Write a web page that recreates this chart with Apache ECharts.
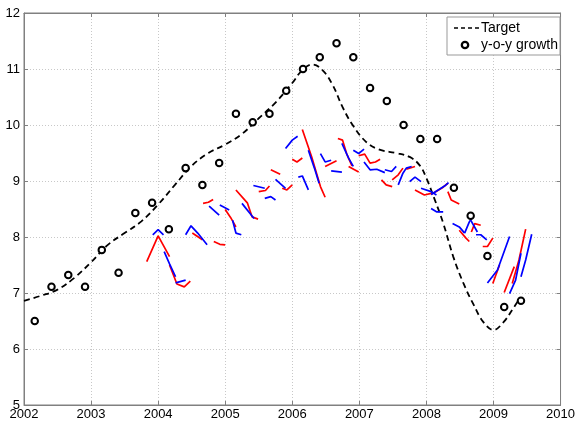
<!DOCTYPE html>
<html>
<head>
<meta charset="utf-8">
<script src="https://cdn.jsdelivr.net/npm/echarts@6/dist/echarts.min.js"></script>
<style>
html, body { margin: 0; padding: 0; background: #fff; }
#container { width: 578px; height: 423px; }
</style>
</head>
<body>
<div id="container"></div>
<script>
// target path (year, %)
var target = [
    [2002.0, 6.86], [2002.25, 6.95], [2002.5, 7.06], [2002.75, 7.27], [2003.0, 7.55],
    [2003.25, 7.86], [2003.5, 8.07], [2003.75, 8.28], [2004.0, 8.58], [2004.25, 8.93],
    [2004.5, 9.27], [2004.75, 9.5], [2005.0, 9.65], [2005.25, 9.84], [2005.5, 10.12],
    [2005.75, 10.4], [2006.0, 10.75], [2006.15, 10.98], [2006.3, 11.08], [2006.45, 10.98],
    [2006.6, 10.72], [2006.75, 10.32], [2006.9, 10.0], [2007.1, 9.7], [2007.3, 9.56],
    [2007.55, 9.5], [2007.75, 9.43], [2007.9, 9.28], [2008.0, 9.05], [2008.12, 8.68],
    [2008.25, 8.25], [2008.4, 7.65], [2008.55, 7.18], [2008.7, 6.8], [2008.85, 6.48],
    [2009.0, 6.34], [2009.15, 6.48], [2009.28, 6.7], [2009.4, 6.92]
];

// quarterly y-o-y growth
var yoyX = [2002.16, 2002.41, 2002.66, 2002.91, 2003.16, 2003.41, 2003.66, 2003.91,
    2004.16, 2004.41, 2004.66, 2004.91, 2005.16, 2005.41, 2005.66, 2005.91,
    2006.16, 2006.41, 2006.66, 2006.91, 2007.16, 2007.41, 2007.66, 2007.91,
    2008.16, 2008.41, 2008.66, 2008.91, 2009.16, 2009.41];
var yoyY = [6.5, 7.11, 7.32, 7.11, 7.77, 7.36, 8.43, 8.61,
    8.14, 9.23, 8.93, 9.32, 10.2, 10.05, 10.2, 10.61,
    11.0, 11.21, 11.46, 11.21, 10.66, 10.43, 10.0, 9.75,
    9.75, 8.88, 8.38, 7.66, 6.75, 6.86];

// forecast paths, model 1 (red)
var redPaths = [
    [[2003.83, 7.56], [2004.0, 8.02], [2004.17, 7.65]],
    [[2004.17, 7.5], [2004.28, 7.16], [2004.39, 7.11], [2004.48, 7.21]],
    [[2004.51, 8.07], [2004.66, 7.95]],
    [[2004.67, 8.6], [2004.75, 8.62], [2004.82, 8.67]],
    [[2004.83, 7.92], [2004.92, 7.87], [2005.0, 7.86]],
    [[2005.0, 8.49], [2005.08, 8.35], [2005.16, 8.18]],
    [[2005.16, 8.84], [2005.33, 8.61], [2005.4, 8.36], [2005.49, 8.32]],
    [[2005.5, 8.81], [2005.6, 8.83], [2005.66, 8.91]],
    [[2005.68, 9.2], [2005.82, 9.12]],
    [[2005.85, 8.87], [2005.92, 8.84], [2006.0, 8.93]],
    [[2006.0, 9.39], [2006.07, 9.34], [2006.15, 9.41]],
    [[2006.15, 9.92], [2006.29, 9.43], [2006.42, 8.9], [2006.49, 8.71]],
    [[2006.49, 9.26], [2006.66, 9.36]],
    [[2006.68, 9.76], [2006.75, 9.73], [2006.81, 9.49], [2006.89, 9.27]],
    [[2006.84, 9.26], [2006.99, 9.16]],
    [[2006.99, 9.45], [2007.08, 9.48], [2007.16, 9.32], [2007.24, 9.34], [2007.31, 9.39]],
    [[2007.33, 9.02], [2007.4, 8.93], [2007.49, 8.9]],
    [[2007.49, 9.02], [2007.58, 9.11], [2007.65, 9.23]],
    [[2007.7, 9.21], [2007.83, 9.26]],
    [[2007.83, 8.84], [2007.97, 8.75], [2008.07, 8.78]],
    [[2008.07, 8.76], [2008.25, 8.89], [2008.32, 8.96]],
    [[2008.32, 8.81], [2008.37, 8.66], [2008.49, 8.59]],
    [[2008.49, 8.12], [2008.59, 7.98], [2008.64, 7.92]],
    [[2008.67, 8.09], [2008.72, 8.24], [2008.81, 8.21]],
    [[2008.84, 7.83], [2008.91, 7.83], [2008.99, 7.98]],
    [[2008.99, 7.17], [2009.09, 7.5]],
    [[2009.16, 7.01], [2009.31, 7.47]],
    [[2009.28, 7.17], [2009.38, 7.59], [2009.48, 8.14]]
];

// forecast paths, model 2 (blue)
var bluePaths = [
    [[2003.92, 8.04], [2004.0, 8.13], [2004.08, 8.04]],
    [[2004.09, 7.74], [2004.17, 7.52], [2004.26, 7.29]],
    [[2004.26, 7.18], [2004.41, 7.23]],
    [[2004.41, 8.04], [2004.49, 8.2], [2004.59, 8.07], [2004.73, 7.86]],
    [[2004.76, 8.55], [2004.91, 8.39]],
    [[2004.92, 8.57], [2005.06, 8.48]],
    [[2005.11, 8.3], [2005.16, 8.07], [2005.24, 8.04]],
    [[2005.25, 8.6], [2005.43, 8.33]],
    [[2005.42, 8.92], [2005.59, 8.87]],
    [[2005.59, 8.69], [2005.68, 8.72], [2005.75, 8.66]],
    [[2005.75, 9.03], [2005.9, 8.87]],
    [[2005.9, 9.58], [2006.0, 9.73], [2006.08, 9.8]],
    [[2006.09, 9.07], [2006.15, 9.09], [2006.24, 8.84]],
    [[2006.24, 9.55], [2006.33, 9.23], [2006.4, 8.96]],
    [[2006.42, 9.49], [2006.49, 9.34], [2006.58, 9.37]],
    [[2006.58, 9.18], [2006.74, 9.16]],
    [[2006.74, 9.67], [2006.84, 9.41], [2006.91, 9.26]],
    [[2006.91, 9.55], [2006.99, 9.49], [2007.07, 9.57]],
    [[2007.07, 9.34], [2007.16, 9.2], [2007.26, 9.21], [2007.38, 9.15]],
    [[2007.38, 9.2], [2007.48, 9.17], [2007.55, 9.26]],
    [[2007.58, 8.93], [2007.65, 9.14], [2007.7, 9.23], [2007.78, 9.26]],
    [[2007.75, 8.99], [2007.83, 9.07], [2007.92, 8.99]],
    [[2007.92, 8.87], [2008.07, 8.81], [2008.15, 8.75]],
    [[2008.07, 8.76], [2008.27, 8.91], [2008.33, 8.97]],
    [[2008.07, 8.51], [2008.15, 8.45], [2008.25, 8.45]],
    [[2008.39, 8.24], [2008.49, 8.18], [2008.57, 8.07]],
    [[2008.57, 8.07], [2008.64, 8.27], [2008.69, 8.36]],
    [[2008.66, 8.3], [2008.76, 8.09]],
    [[2008.74, 8.04], [2008.81, 8.04], [2008.9, 7.95]],
    [[2008.91, 7.18], [2009.06, 7.41], [2009.24, 8.01]],
    [[2009.24, 6.99], [2009.33, 7.23], [2009.41, 7.71]],
    [[2009.41, 7.29], [2009.48, 7.59], [2009.57, 8.05]]
];

var FONT = "'Liberation Sans', Arial, Helvetica, sans-serif";

function pathSeries(paths, color) {
    return paths.map(function (p) {
        return {
            type: 'line',
            data: p,
            showSymbol: false,
            symbol: 'none',
            silent: true,
            z: 3,
            lineStyle: { color: color, width: 1.7 }
        };
    });
}

var yoy = yoyX.map(function (x, i) { return [x, yoyY[i]]; });

var dom = document.getElementById('container');
var myChart = echarts.init(dom);

var tickStyle = { inside: true, length: 4, lineStyle: { color: '#808080' } };
var axisLine = { show: true, lineStyle: { color: '#808080', width: 1 } };
var gridLine = { show: true, lineStyle: { color: '#c8c8c8', type: [1, 2], width: 1 } };

var option = {
    animation: false,
    backgroundColor: '#fff',
    textStyle: { fontFamily: FONT },
    grid: { left: 24, right: 15, top: 13, bottom: 18, show: true, borderColor: '#808080', borderWidth: 1 },
    legend: { show: false },
    xAxis: [{
        type: 'value', min: 2002, max: 2010, interval: 1,
        axisLine: axisLine, axisTick: tickStyle,
        axisLabel: { color: '#000', fontSize: 13, margin: 3, fontFamily: FONT,
            formatter: function (v) { return String(v); } },
        splitLine: gridLine
    }, {
        type: 'value', position: 'top', min: 2002, max: 2010, interval: 1,
        axisLine: axisLine, axisTick: tickStyle, axisLabel: { show: false }, splitLine: { show: false }
    }],
    yAxis: [{
        type: 'value', min: 5, max: 12, interval: 1,
        axisLine: axisLine, axisTick: tickStyle,
        axisLabel: { color: '#000', fontSize: 13, margin: 4, fontFamily: FONT },
        splitLine: gridLine
    }, {
        type: 'value', position: 'right', min: 5, max: 12, interval: 1,
        axisLine: axisLine, axisTick: tickStyle, axisLabel: { show: false }, splitLine: { show: false }
    }],
    // MATLAB-style legend box
    graphic: [
        { type: 'rect', z: 100, shape: { x: 447, y: 17, width: 113, height: 38 },
          style: { fill: '#fff', stroke: '#999', lineWidth: 1 } },
        { type: 'line', z: 101, shape: { x1: 454, y1: 28, x2: 479, y2: 28 },
          style: { stroke: '#000', lineWidth: 1.5, lineDash: [4, 3] } },
        { type: 'text', z: 101, x: 481, y: 28,
          style: { text: 'Target', fontSize: 14, fontFamily: FONT, fill: '#000', verticalAlign: 'middle' } },
        { type: 'circle', z: 101, shape: { cx: 465, cy: 45, r: 3.2 },
          style: { fill: '#fff', stroke: '#000', lineWidth: 2.3 } },
        { type: 'text', z: 101, x: 481, y: 45,
          style: { text: 'y-o-y growth', fontSize: 14, fontFamily: FONT, fill: '#000', verticalAlign: 'middle' } }
    ],
    series: [{
        name: 'Target',
        type: 'line',
        data: target,
        smooth: 0.4,
        showSymbol: false,
        symbol: 'none',
        z: 2,
        lineStyle: { color: '#000', width: 1.8, type: [6, 4] }
    }, {
        name: 'y-o-y growth',
        type: 'scatter',
        data: yoy,
        symbol: 'emptyCircle',
        symbolSize: 6.5,
        z: 4,
        itemStyle: { color: '#000', borderColor: '#000', borderWidth: 2.3, opacity: 1 }
    }].concat(pathSeries(redPaths, '#ff0000'), pathSeries(bluePaths, '#0000ff'))
};

myChart.setOption(option);
</script>
</body>
</html>
